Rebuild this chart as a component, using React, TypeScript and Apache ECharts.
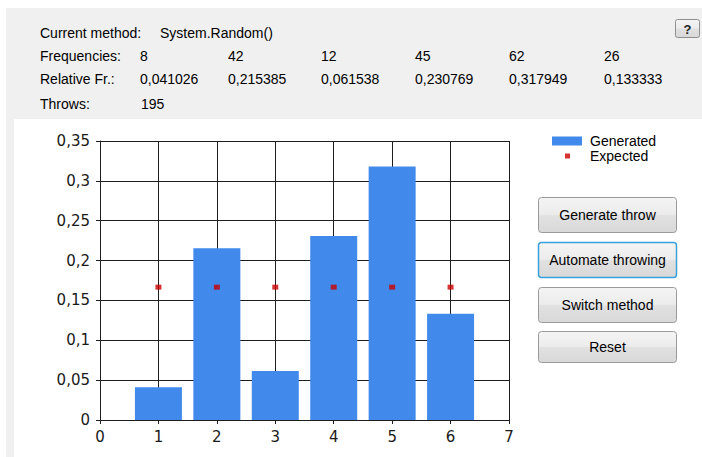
import React, { useEffect, useRef } from 'react';
import * as echarts from 'echarts';

// ---- data ----
const faces = [1, 2, 3, 4, 5, 6];
const frequencies = [8, 42, 12, 45, 62, 26];
const relativeFreq = [0.041026, 0.215385, 0.061538, 0.230769, 0.317949, 0.133333];
const expectedFreq = [0.166667, 0.166667, 0.166667, 0.166667, 0.166667, 0.166667];
const throwsCount = 195;
const methodName = 'System.Random()';
const seriesNames = ['Generated', 'Expected'];
const buttonLabels = ['Generate throw', 'Automate throwing', 'Switch method', 'Reset'];
const rowLabels = ['Current method:', 'Frequencies:', 'Relative Fr.:', 'Throws:'];
const xTicks = { min: 0, max: 7, interval: 1 };
const yTicks = { min: 0, max: 0.35, interval: 0.05 };

const UI_FONT = '"Liberation Sans", Arial, sans-serif';
const AXIS_FONT = '"DejaVu Sans", Verdana, sans-serif';

const fmtComma = (v: number, digits?: number) =>
  (digits != null ? v.toFixed(digits) : String(v)).replace('.', ',');

function buildGraphics() {
  const els: any[] = [];
  // panel backgrounds
  els.push({ type: 'rect', z: -20, shape: { x: 6, y: 8, width: 700, height: 460 }, style: { fill: '#f0f0f0' } });
  els.push({ type: 'rect', z: -19, shape: { x: 14, y: 119, width: 690, height: 340 }, style: { fill: '#ffffff' } });

  const rowY = [32.5, 56, 78.5, 104];
  const colX = [140, 228, 321, 415, 509, 604];
  const txt = (x: number, y: number, t: string, extra: any = {}) => ({
    type: 'text', z: 5, x, y,
    style: { text: t, font: `14px ${UI_FONT}`, fill: '#000', verticalAlign: 'middle', align: 'left', ...extra },
  });
  rowLabels.forEach((l, i) => els.push(txt(40, rowY[i], l)));
  els.push(txt(160, rowY[0], methodName));
  frequencies.forEach((f, i) => els.push(txt(colX[i], rowY[1], String(f))));
  relativeFreq.forEach((r, i) => els.push(txt(colX[i], rowY[2], fmtComma(r, 6))));
  els.push(txt(141, rowY[3], String(throwsCount)));

  const btnFill = new echarts.graphic.LinearGradient(0, 0, 0, 1, [
    { offset: 0, color: '#f4f4f4' },
    { offset: 0.48, color: '#ececec' },
    { offset: 0.52, color: '#e1e1e1' },
    { offset: 1, color: '#d8d8d8' },
  ]);
  // help button
  els.push({
    type: 'group', z: 5,
    children: [
      { type: 'rect', shape: { x: 675.5, y: 19.5, width: 24, height: 18, r: 2 }, style: { fill: btnFill, stroke: '#8f8f8f', lineWidth: 1 } },
      { type: 'text', x: 687.5, y: 29, style: { text: '?', font: `bold 13px ${UI_FONT}`, fill: '#222', align: 'center', verticalAlign: 'middle' } },
    ],
  });

  const btnY = [197, 242, 287, 331];
  const btnH = [35, 35, 35, 31];
  buttonLabels.forEach((b, i) => {
    const active = i === 1;
    els.push({
      type: 'group', z: 5,
      children: [
        {
          type: 'rect',
          shape: { x: 538.5, y: btnY[i] + 0.5, width: 138, height: btnH[i], r: 3 },
          style: { fill: btnFill, stroke: active ? '#3ca0dc' : '#9a9a9a', lineWidth: active ? 1.5 : 1 },
        },
        {
          type: 'text', x: 607.5, y: btnY[i] + btnH[i] / 2 + 0.5,
          style: { text: b, font: `14px ${UI_FONT}`, fill: '#000', align: 'center', verticalAlign: 'middle' },
        },
      ],
    });
  });
  return els;
}

export default function App() {
  const ref = useRef<HTMLDivElement>(null);
  useEffect(() => {
    if (!ref.current) return;
    const chart = echarts.init(ref.current, null, { renderer: 'svg' });
    const gridColor = '#1e1e1e';
    chart.setOption({
      animation: false,
      backgroundColor: '#ffffff',
      graphic: buildGraphics(),
      grid: { left: 100, right: 193, top: 141, bottom: 37, containLabel: false },
      legend: {
        orient: 'vertical',
        left: 552,
        top: 134,
        padding: 0,
        itemGap: 1,
        itemWidth: 30,
        itemHeight: 9,
        textStyle: { fontFamily: UI_FONT, fontSize: 14, lineHeight: 14, color: '#000', padding: [0, 0, 0, 3] },
        data: [
          { name: seriesNames[0], icon: 'rect' },
          { name: seriesNames[1], icon: 'path://M0,0L0,0M30,9L30,9M13,2L18,2L18,7L13,7Z' },
        ],
      },
      xAxis: {
        type: 'value',
        min: xTicks.min,
        max: xTicks.max,
        interval: xTicks.interval,
        axisLine: { lineStyle: { color: gridColor, width: 1 } },
        axisTick: { show: true, inside: false, length: 4, lineStyle: { color: gridColor } },
        axisLabel: { margin: 9, fontFamily: AXIS_FONT, fontSize: 15, color: '#1a1a1a' },
        splitLine: { show: true, lineStyle: { color: gridColor, width: 1 } },
      },
      yAxis: {
        type: 'value',
        min: yTicks.min,
        max: yTicks.max,
        interval: yTicks.interval,
        axisLine: { show: true, lineStyle: { color: gridColor, width: 1 } },
        axisTick: { show: true, inside: false, length: 4, lineStyle: { color: gridColor } },
        axisLabel: {
          margin: 10, fontFamily: AXIS_FONT, fontSize: 15, color: '#1a1a1a',
          formatter: (v: number) => fmtComma(Math.round(v * 100) / 100),
        },
        splitLine: { show: true, lineStyle: { color: gridColor, width: 1 } },
      },
      series: [
        {
          name: seriesNames[0],
          type: 'bar',
          barWidth: 47,
          itemStyle: { color: '#418aeb' },
          data: faces.map((f, i) => [f, relativeFreq[i]]),
        },
        {
          name: seriesNames[1],
          type: 'scatter',
          symbol: 'rect',
          symbolSize: [6, 5],
          itemStyle: { color: '#cc0000' },
          data: faces.map((f, i) => [f, expectedFreq[i]]),
          z: 3,
        },
      ],
    });
    return () => chart.dispose();
  }, []);
  return (
    <div
      ref={ref}
      style={{ position: 'fixed', left: 0, top: 0, width: 702, height: 457 }}
    />
  );
}
